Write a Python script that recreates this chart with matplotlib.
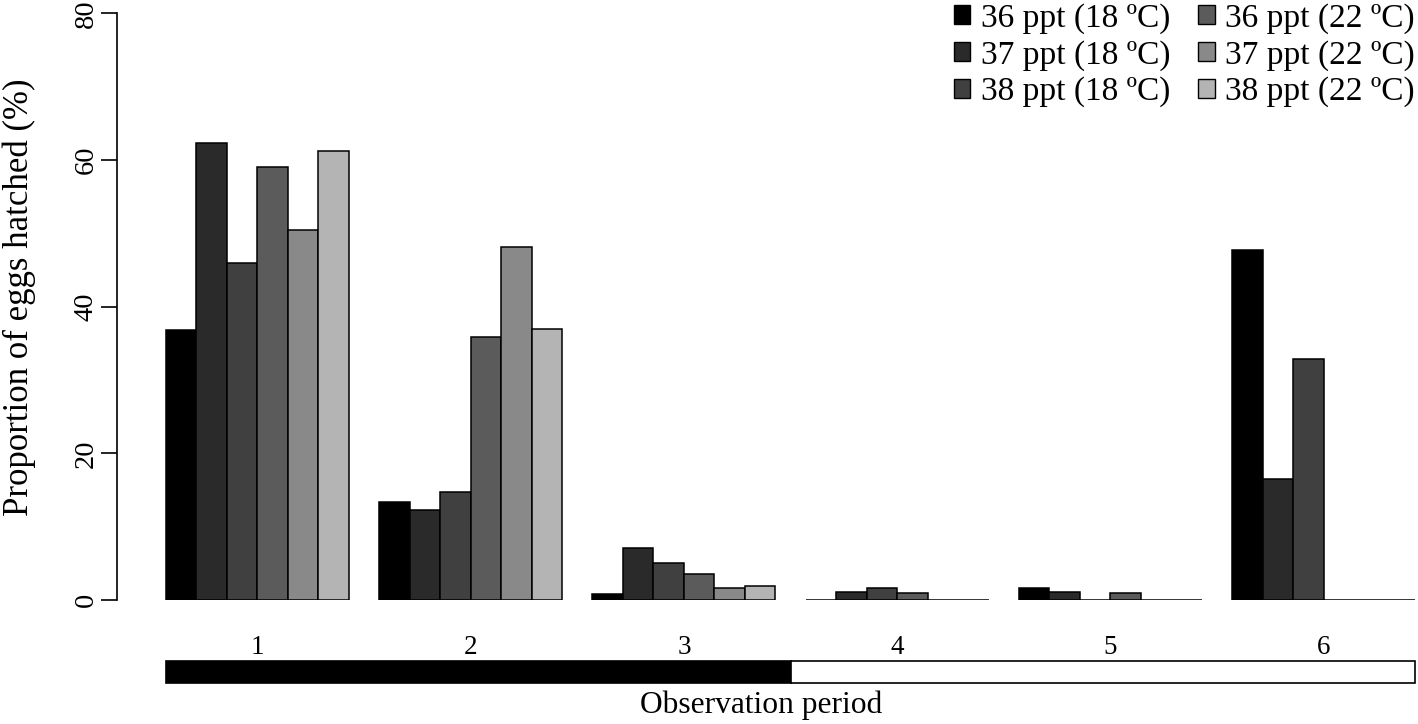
import matplotlib
matplotlib.use("Agg")
import matplotlib.pyplot as plt
import matplotlib.transforms as mtransforms
from matplotlib.patches import Patch, Rectangle
import numpy as np

plt.rcParams['font.family'] = ['Liberation Serif', 'DejaVu Serif']

periods = ["1", "2", "3", "4", "5", "6"]
series_labels = ["36 ppt (18 ºC)", "37 ppt (18 ºC)", "38 ppt (18 ºC)",
                 "36 ppt (22 ºC)", "37 ppt (22 ºC)", "38 ppt (22 ºC)"]
s36_18 = [36.8, 13.3, 0.8, 0.0, 1.6, 47.7]
s37_18 = [62.3, 12.3, 7.1, 1.1, 1.1, 16.5]
s38_18 = [45.9, 14.7, 5.0, 1.7, 0.0, 32.9]
s36_22 = [59.0, 35.8, 3.6, 0.9, 0.9, 0.0]
s37_22 = [50.5, 48.1, 1.6, 0.0, 0.0, 0.0]
s38_22 = [61.2, 37.0, 1.9, 0.0, 0.0, 0.0]
series = [s36_18, s37_18, s38_18, s36_22, s37_22, s38_22]
colors = ["#000000", "#2a2a2a", "#404040", "#5b5b5b", "#898989", "#b4b4b4"]
yticks = [0, 20, 40, 60, 80]
dark_periods = 3  # periods under the black segment of the bottom band

W, H = 1418, 724
fig = plt.figure(figsize=(W / 100, H / 100), dpi=100)

# axes layout in pixels
left_px, right_px = 117, 1418
top_px, bot_px = 13.3, 600
ax = fig.add_axes([left_px / W, (H - bot_px) / H,
                   (right_px - left_px) / W, (bot_px - top_px) / H])

n_ser = len(series)
group_step = n_ser + 1
px_per_unit = (1415 - 166) / (len(periods) * group_step - 1)
x0 = -(166 - left_px) / px_per_unit
x1 = x0 + (right_px - left_px) / px_per_unit
ax.set_xlim(x0, x1)
ax.set_ylim(0, 80)

group_starts = np.arange(len(periods)) * group_step
for i, (vals, col) in enumerate(zip(series, colors)):
    ax.bar(group_starts + i, vals, width=1.0, align='edge', color=col,
           edgecolor='black', linewidth=1.1, label=series_labels[i])

for sp in ['top', 'right', 'bottom']:
    ax.spines[sp].set_visible(False)
ax.spines['left'].set_bounds(0, 80)
ax.spines['left'].set_linewidth(1.2)
ax.set_yticks(yticks)
ax.set_yticklabels([str(t) for t in yticks], rotation=90, va='center')
ax.tick_params(axis='y', length=11.5, width=1.2, pad=1.5, labelsize=20.5)
ax.set_xticks([])

# period labels
centers = group_starts + n_ser / 2
bt = mtransforms.blended_transform_factory(ax.transData, fig.transFigure)
for c, lab in zip(centers, periods):
    ax.text(c, (H - 648) / H, lab, transform=bt, ha='center', va='center',
            fontsize=19.5, clip_on=False)

# light/dark band
band_lo = (H - 683) / H
band_h = (683 - 661) / H
split = group_starts[dark_periods] - 0.5
end = group_starts[-1] + n_ser
ax.add_patch(Rectangle((0, band_lo), split, band_h, transform=bt,
                       facecolor='black', edgecolor='black', lw=1.2, clip_on=False))
ax.add_patch(Rectangle((split, band_lo), end - split, band_h, transform=bt,
                       facecolor='white', edgecolor='black', lw=1.2, clip_on=False))

fig.text(761 / W, (H - 705) / H, "Observation period", ha='center', va='center',
         fontsize=22.7)
fig.text(19 / W, (H - 297) / H, "Proportion of eggs hatched (%)", ha='center',
         va='center', rotation=90, fontsize=25)

handles = [Patch(facecolor=c, edgecolor='black', linewidth=1.0) for c in colors]
leg = ax.legend(handles, series_labels, ncol=2, loc='upper right',
                bbox_to_anchor=(1.0 - 3 / W, 1.0 - 3 / H),
                bbox_transform=fig.transFigure,
                frameon=False, fontsize=24, handlelength=0.5, handleheight=0.5,
                handletextpad=0.32, columnspacing=0.82, labelspacing=0.18,
                borderaxespad=0.0, borderpad=0.0)

fig.savefig("out.png", dpi=100)
